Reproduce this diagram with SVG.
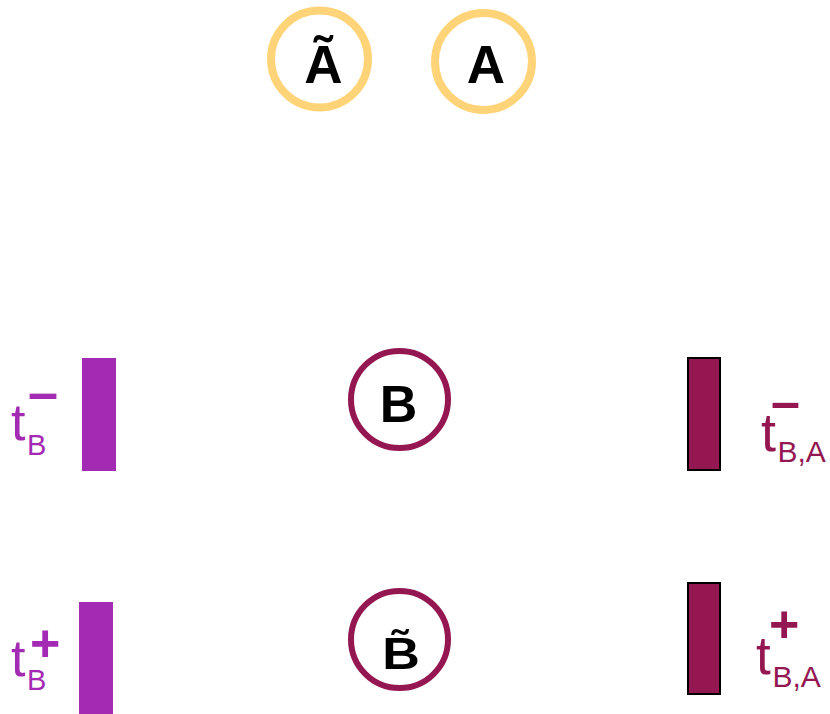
<svg xmlns="http://www.w3.org/2000/svg" width="830" height="714" viewBox="0 0 830 714">
<style>
  .place { fill: #ffffff; stroke-width: 8; }
  .yel { stroke: #FFD479; }
  .plum { stroke: #941751; stroke-width: 6; }
  .ptxt { font-family: "Liberation Sans", Arial, sans-serif; font-weight: bold; fill: #000000; text-anchor: middle; }
  .lbl { font-family: "Liberation Sans", Arial, sans-serif; }
  .tr1 { fill: #A32AB3; }
  .tr2 { fill: #941751; stroke: #000000; stroke-width: 2; }
  .c1 { fill: #A32AB3; }
  .c2 { fill: #941751; }
  .sym { font-weight: bold; }
</style>
<rect width="830" height="714" fill="#ffffff"/>
<g id="connectors"/>
<g id="place-Atilde">
  <circle class="place yel" cx="319.5" cy="59" r="48.5"/>
  <text class="ptxt" x="323.5" y="83" font-size="53">Ã</text>
</g>
<g id="place-A">
  <circle class="place yel" cx="483.5" cy="61.5" r="48.5"/>
  <text class="ptxt" x="486" y="83" font-size="53">A</text>
</g>
<g id="place-B">
  <circle class="place plum" cx="399.5" cy="399.5" r="48.5"/>
  <text class="ptxt" x="398.5" y="422" font-size="52">B</text>
</g>
<g id="place-Btilde">
  <circle class="place plum" cx="399.5" cy="639.5" r="48.5"/>
  <text class="ptxt" transform="translate(401,669) scale(1,0.87)" x="0" y="0" font-size="52">B̃</text>
</g>
<g id="trans-tB-minus">
  <rect class="tr1" x="82" y="358" width="34" height="113"/>
  <text class="lbl c1"><tspan x="11" y="440" font-size="52">t</tspan><tspan x="27" y="455" font-size="29">B</tspan><tspan class="sym" x="28" y="411" font-size="54">–</tspan></text>
</g>
<g id="trans-tB-plus">
  <rect class="tr1" x="79" y="602" width="34" height="114"/>
  <text class="lbl c1"><tspan x="11" y="676" font-size="52">t</tspan><tspan x="27" y="690" font-size="29">B</tspan><tspan class="sym" x="30" y="661" font-size="52">+</tspan></text>
</g>
<g id="trans-tBA-minus">
  <rect class="tr2" x="688" y="358" width="32" height="112"/>
  <text class="lbl c2"><tspan x="761" y="451" font-size="54">t</tspan><tspan x="777.5" y="462" font-size="30">B,A</tspan><tspan class="sym" x="771" y="419" font-size="52">–</tspan></text>
</g>
<g id="trans-tBA-plus">
  <rect class="tr2" x="688" y="583" width="32" height="111"/>
  <text class="lbl c2"><tspan x="756" y="674" font-size="53">t</tspan><tspan x="772.5" y="687" font-size="30">B,A</tspan><tspan class="sym" x="769" y="642" font-size="52">+</tspan></text>
</g>
</svg>
